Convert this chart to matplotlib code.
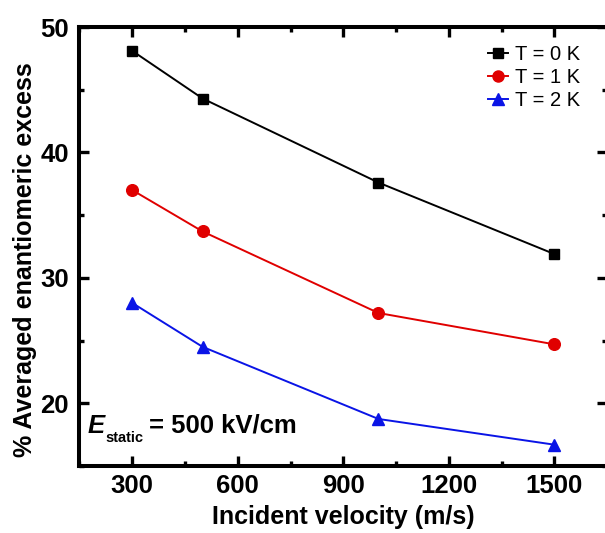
import matplotlib
matplotlib.use("Agg")
import matplotlib.pyplot as plt
from matplotlib.ticker import MultipleLocator

plt.rcParams['font.family'] = ['Liberation Sans', 'DejaVu Sans']

# Incident velocity (m/s)
velocity = [300, 500, 1000, 1500]
# Averaged enantiomeric excess (%) at each temperature
ee_T0 = [48.1, 44.3, 37.6, 31.9]
ee_T1 = [37.0, 33.7, 27.2, 24.7]
ee_T2 = [28.0, 24.5, 18.75, 16.7]

series_labels = ['T = 0 K', 'T = 1 K', 'T = 2 K']
x_ticks = [300, 600, 900, 1200, 1500]
y_ticks = [20, 30, 40, 50]

fig = plt.figure(figsize=(6.05, 5.33), dpi=100)
ax = fig.add_axes([0.1314, 0.1257, 0.872, 0.8236])

ax.plot(velocity, ee_T0, color='black', marker='s', markersize=7.5, lw=1.4,
        label=series_labels[0])
ax.plot(velocity, ee_T1, color='#e00000', marker='o', markersize=8.4, lw=1.4,
        label=series_labels[1])
ax.plot(velocity, ee_T2, color='#0a14e6', marker='^', markersize=9.2, lw=1.4,
        label=series_labels[2])

ax.set_xlim(150, 1650)
ax.set_ylim(15, 50)
ax.set_xticks(x_ticks)
ax.set_yticks(y_ticks)
ax.xaxis.set_minor_locator(MultipleLocator(150))
ax.yaxis.set_minor_locator(MultipleLocator(5))

for s in ax.spines.values():
    s.set_linewidth(2.9)
ax.tick_params(which='both', direction='in', top=True, right=True, width=2.4)
ax.tick_params(which='major', length=7)
ax.tick_params(which='minor', length=3.4)
ax.tick_params(axis='y', which='major', labelsize=18.5, pad=7.5)
ax.tick_params(axis='x', which='major', labelsize=18.5, pad=6)
for lab in ax.get_xticklabels() + ax.get_yticklabels():
    lab.set_fontweight('bold')

ax.set_xlabel('Incident velocity (m/s)', fontsize=18, fontweight='bold')
ax.xaxis.set_label_coords(0.5, -0.089)
ax.set_ylabel('% Averaged enantiomeric excess', fontsize=18, fontweight='bold')
ax.yaxis.set_label_coords(-0.081, 0.47)

# Field-strength annotation: bold-italic E with a small "static" subscript
ax.text(0.016, 0.0752, 'E', transform=ax.transAxes, fontsize=18.5,
        fontweight='bold', fontstyle='italic', va='baseline', ha='left')
ax.text(0.050, 0.0547, 'static', transform=ax.transAxes, fontsize=10.5,
        fontweight='bold', va='baseline', ha='left')
ax.text(0.1315, 0.0752, '= 500 kV/cm', transform=ax.transAxes, fontsize=18.5,
        fontweight='bold', va='baseline', ha='left')

ax.legend(loc='upper right', frameon=False, fontsize=14.5, handlelength=1.0,
          handletextpad=0.35, labelspacing=0.2, borderaxespad=0.0,
          bbox_to_anchor=(0.965, 0.978), markerscale=0.95)

fig.savefig('out.png', dpi=100)
